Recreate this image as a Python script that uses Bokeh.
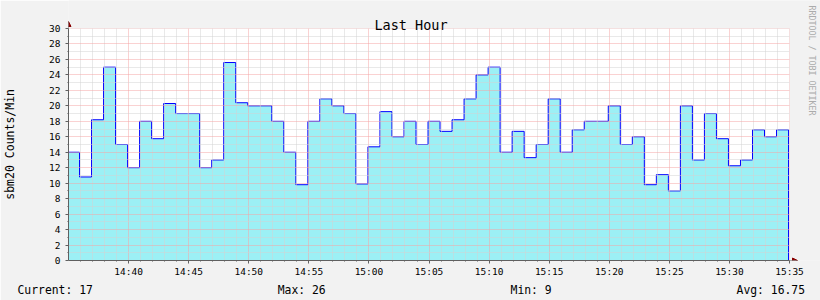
import pandas as pd
from bokeh.plotting import figure
from bokeh.models import (Range1d, FixedTicker, DatetimeTickFormatter, Label,
                          Arrow, NormalHead, BoxAnnotation, Title)
from bokeh.embed import file_html
from bokeh.resources import INLINE

# ---------------- data ----------------
title_text = "Last Hour"
y_label = "sbm20 Counts/Min"
credit_text = "RRDTOOL / TOBI OETIKER"
stats_labels = ["Current: 17", "Max: 26", "Min: 9", "Avg: 16.75"]

start_time = "2024-01-01 14:35:00"
end_time = "2024-01-01 15:35:00"
first_step = "2024-01-01 14:34:55"   # one-minute RRD steps

counts = [14, 10.8, 18.2, 25, 15, 12, 18, 15.75, 20.3, 19,
          19, 12, 13, 25.6, 20.4, 20, 20, 18, 14, 9.8,
          18, 20.9, 20, 19, 9.9, 14.7, 19.25, 16, 18, 15,
          18, 16.7, 18.2, 20.9, 24, 25, 14, 16.7, 13.3, 15,
          20.9, 14, 16.9, 18, 18, 20, 15, 16, 9.8, 11.1,
          9, 20, 13, 19, 15.75, 12.25, 13, 16.9, 16, 16.9]

y_major = list(range(0, 31, 2))
y_minor = list(range(1, 30, 2))
YMAX = 30

# ---------------- derived ----------------
t0 = pd.Timestamp(first_step)
xs = [t0 + pd.Timedelta(minutes=i) for i in range(len(counts) + 1)]
ys = counts + [0]

s_ms = pd.Timestamp(start_time).value / 1e6
e_ms = pd.Timestamp(end_time).value / 1e6
x_major = [s_ms + m * 60000 for m in range(5, 61, 5)]
x_minor = [s_ms + m * 60000 for m in range(0, 61) if m % 5 != 0]

# layout (pixels)
W, H = 820, 300
FL, FR, FT, FB = 67, 789, 28, 260      # plot area
KX = (e_ms - s_ms) / (FR - FL)         # ms per pixel
KY = YMAX / (FB - FT)                  # units per pixel


def X(px):
    return s_ms + (px - FL) * KX


def Y(py):
    return (FB - py) * KY


BG = "#f2f2f2"
AXC = "#606060"
FONT = "DejaVu Sans Mono"

p = figure(width=W, height=H, x_axis_type="datetime", output_backend="svg",
           toolbar_location=None,
           x_range=Range1d(s_ms, X(W)), y_range=Range1d(0, Y(0)),
           min_border_left=FL, min_border_right=0,
           min_border_top=0, min_border_bottom=H - FB,
           background_fill_color=BG, border_fill_color=BG)
p.outline_line_color = None

# white plotting canvas
p.add_layout(BoxAnnotation(left=s_ms, right=e_ms, bottom=0, top=YMAX,
                           fill_color="white", fill_alpha=1, line_color=None,
                           level="image"))

p.varea_step(x=xs, y1=[0] * len(ys), y2=ys, step_mode="after",
             fill_color="#9cf0f5", level="underlay")
p.step(x=xs, y=ys, mode="after", line_color="#0000ff", line_width=1,
       level="underlay")

xt = FixedTicker(ticks=x_major, minor_ticks=x_minor)
yt = FixedTicker(ticks=y_major, minor_ticks=y_minor)
p.xaxis.ticker = xt
p.yaxis.ticker = yt
p.xgrid.ticker = xt
p.ygrid.ticker = yt
fmt = "%H:%M"
p.xaxis.formatter = DatetimeTickFormatter(minsec=fmt, minutes=fmt, hourmin=fmt,
                                          hours=fmt, seconds=fmt)

for g in (p.xgrid, p.ygrid):
    g.level = "glyph"
    g.grid_line_color = "#f4a4a4"
    g.grid_line_dash = "1 1"
    g.minor_grid_line_color = "#d2d2d2"
    g.minor_grid_line_dash = "1 1"

# cover grid lines that run outside the plotting canvas
for kw in (dict(bottom=YMAX), dict(left=e_ms)):
    p.add_layout(BoxAnnotation(fill_color=BG, fill_alpha=1, line_color=None,
                               level="guide", **kw))

for ax in (p.xaxis, p.yaxis):
    ax.level = "annotation"
    ax.axis_line_color = AXC
    ax.major_tick_line_color = AXC
    ax.minor_tick_line_color = AXC
    ax.major_tick_out = 3
    ax.major_tick_in = 0
    ax.minor_tick_out = 1
    ax.minor_tick_in = 0
    ax.major_label_text_font = FONT
    ax.major_label_text_font_size = "9.5px"
    ax.major_label_text_color = "#000000"
p.xaxis.bounds = (s_ms, e_ms)
p.xaxis.major_label_standoff = 2
p.yaxis.bounds = (0, YMAX)
p.yaxis.major_label_standoff = 5
# the label is centred on the whole (taller) frame; no-break spaces at its end
# move the visible words down to the centre of the plotting canvas
p.yaxis.axis_label = y_label + "\u00a0" * 4
p.yaxis.axis_label_text_font = FONT
p.yaxis.axis_label_text_font_size = "11.5px"
p.yaxis.axis_label_text_font_style = "normal"
p.yaxis.axis_label_text_color = "#000000"
p.yaxis.axis_label_standoff = 29

# arrows at the axis ends
for xa, ya, xb, yb in ((s_ms, YMAX, s_ms, Y(21)), (e_ms, 0, X(797), 0)):
    p.add_layout(Arrow(end=NormalHead(size=5, fill_color="#880000",
                                      line_color="#880000"),
                       x_start=xa, y_start=ya, x_end=xb, y_end=yb,
                       line_color=AXC, line_width=1, level="overlay"))

# title and credit
p.add_layout(Label(x=X(410), y=Y(24), text=title_text, text_font=FONT,
                   text_font_size="13.5px", text_align="center",
                   text_baseline="alphabetic", text_color="#000000",
                   level="overlay"))
p.add_layout(Label(x=X(811), y=Y(60), text=credit_text, text_font=FONT,
                   text_font_size="8.3px", text_align="center",
                   text_baseline="middle", angle=-1.5708, text_color="#ababab",
                   level="overlay"))

# summary line (monospace, justified with no-break spaces)
gap = "\u00a0" * 27
stats_line = gap.join(stats_labels)
p.add_layout(Title(text=stats_line, align="left", offset=16 - FL,
                   standoff=2, vertical_align="bottom", text_font=FONT,
                   text_font_size="11.38px", text_font_style="normal",
                   text_color="#000000"), "below")

open("out.html", "w").write(file_html(p, INLINE))
